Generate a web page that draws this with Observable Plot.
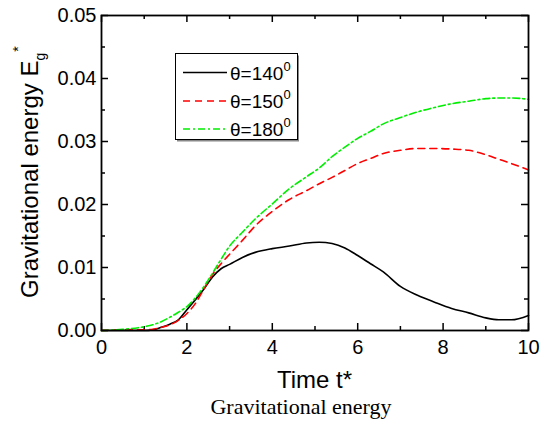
<!DOCTYPE html>
<html>
<head>
<meta charset="utf-8">
<script src="https://cdn.jsdelivr.net/npm/d3@7"></script>
<script src="https://cdn.jsdelivr.net/npm/@observablehq/plot@0.6"></script>
<style>
  html, body { margin: 0; padding: 0; background: #fff; }
  #chart { width: 549px; height: 424px; }
</style>
</head>
<body>
<div id="chart"></div>
<script>
// ---- data ----
const time = [0, 0.5, 1, 1.2, 1.4, 1.6, 1.8, 2, 2.2, 2.4, 2.6, 2.8, 3, 3.3, 3.6, 4, 4.4, 4.8, 5.1, 5.4, 5.7, 6, 6.3, 6.6, 7, 7.4, 7.8, 8.2, 8.6, 9, 9.3, 9.6, 10];
const theta140 = [0, 0, 0, 0.0001, 0.0005, 0.001, 0.0017, 0.0033, 0.0049, 0.0066, 0.0085, 0.0098, 0.0105, 0.0116, 0.0124, 0.0130, 0.0134, 0.0139, 0.0140, 0.0138, 0.0131, 0.0119, 0.0106, 0.0093, 0.0070, 0.0056, 0.0045, 0.0035, 0.0028, 0.0020, 0.0017, 0.0017, 0.0024];
const theta150 = [0, 0.0001, 0.0001, 0.0002, 0.0005, 0.0009, 0.0016, 0.0027, 0.0043, 0.0066, 0.0089, 0.0106, 0.0121, 0.0143, 0.0166, 0.0189, 0.0208, 0.0222, 0.0233, 0.0243, 0.0254, 0.0265, 0.0273, 0.0281, 0.0286, 0.0289, 0.0289, 0.0288, 0.0286, 0.0279, 0.0272, 0.0265, 0.0255];
const theta180 = [0, 0.0002, 0.0006, 0.0009, 0.0014, 0.0021, 0.0029, 0.0038, 0.0052, 0.0070, 0.0091, 0.0113, 0.0134, 0.0156, 0.0177, 0.0201, 0.0225, 0.0244, 0.0258, 0.0276, 0.0291, 0.0305, 0.0316, 0.0328, 0.0338, 0.0347, 0.0354, 0.0360, 0.0364, 0.0368, 0.0369, 0.0369, 0.0367];
const seriesNames = ["θ=140", "θ=150", "θ=180"];
const seriesColors = ["#000000", "#ff0000", "#00ee00"];
const seriesDash = [null, "7,5", "7,3,2,3"];
const xMajorTicks = [0, 2, 4, 6, 8, 10];
const xMinorTicks = [1, 3, 5, 7, 9];
const yMajorTicks = [0, 0.01, 0.02, 0.03, 0.04, 0.05];
const yMinorTicks = [0.005, 0.015, 0.025, 0.035, 0.045];

// ---- build table ----
const allSeries = [theta140, theta150, theta180];
const rows = [];
allSeries.forEach((vals, s) => vals.forEach((v, i) => rows.push({t: time[i], e: v, s})));

const W = 549, H = 424;
const mL = 101, mR = 21, mT = 15, mB = 94;
const innerH = H - mT - mB, innerW = W - mL - mR;

const font = "'Liberation Sans', Arial, Helvetica, sans-serif";

const lineMarks = allSeries.map((vals, s) =>
  Plot.line(rows.filter(r => r.s === s), {
    x: "t", y: "e", stroke: seriesColors[s], strokeWidth: 1.6,
    strokeDasharray: seriesDash[s] || undefined, curve: "monotone-x"
  })
);

const plot = Plot.plot({
  width: W, height: H,
  marginLeft: mL, marginRight: mR, marginTop: mT, marginBottom: mB,
  style: {fontFamily: font, fontSize: "20px", color: "#000", background: "#fff"},
  x: {domain: [0, 10]},
  y: {domain: [0, 0.05]},
  marks: [
    Plot.tickX(xMajorTicks, {x: d => d, insetTop: innerH - 7, strokeWidth: 1.5}),
    Plot.tickX(xMinorTicks, {x: d => d, insetTop: innerH - 4, strokeWidth: 1.5}),
    Plot.tickX(xMajorTicks, {x: d => d, insetBottom: innerH - 7, strokeWidth: 1.5}),
    Plot.tickX(xMinorTicks, {x: d => d, insetBottom: innerH - 4, strokeWidth: 1.5}),
    Plot.tickY(yMajorTicks, {y: d => d, insetRight: innerW - 7, strokeWidth: 1.5}),
    Plot.tickY(yMinorTicks, {y: d => d, insetRight: innerW - 4, strokeWidth: 1.5}),
    Plot.tickY(yMajorTicks, {y: d => d, insetLeft: innerW - 7, strokeWidth: 1.5}),
    Plot.tickY(yMinorTicks, {y: d => d, insetLeft: innerW - 4, strokeWidth: 1.5}),
    Plot.axisX({ticks: xMajorTicks, tickSize: 0, tickPadding: 9, label: null, fontSize: 20}),
    Plot.axisY({ticks: yMajorTicks, tickSize: 0, tickPadding: 5, tickFormat: d3.format(".2f"), label: null, fontSize: 20}),
    ...lineMarks,
    Plot.frame({stroke: "#000", strokeWidth: 1.8})
  ]
});

document.getElementById("chart").appendChild(plot);

// ---- titles, legend, caption ----
const svg = d3.select(plot);

svg.append("text")
  .attr("x", mL + innerW / 2).attr("y", 388)
  .attr("text-anchor", "middle")
  .style("font-family", font).style("font-size", "24px").attr("fill", "#000")
  .text("Time t*");

const yt = svg.append("text")
  .attr("transform", "translate(38,298) rotate(-90)")
  .attr("text-anchor", "start")
  .style("font-family", font).style("font-size", "24px").attr("fill", "#000");
yt.append("tspan").text("Gravitational energy E");
yt.append("tspan").attr("dy", 7).style("font-size", "14px").text("g");
yt.append("tspan").attr("dy", -22).attr("dx", 1).style("font-size", "14px").text("*");

svg.append("text")
  .attr("x", 301).attr("y", 414)
  .attr("text-anchor", "middle")
  .style("font-family", "'Liberation Serif', 'Times New Roman', serif").style("font-size", "22px").attr("fill", "#000")
  .text("Gravitational energy");

// legend
const lg = svg.append("g").attr("text-anchor", "start");
lg.append("rect").attr("x", 177).attr("y", 55.5).attr("width", 122).attr("height", 86).attr("fill", "#888");
lg.append("rect").attr("x", 175.5).attr("y", 53.5).attr("width", 122).attr("height", 86)
  .attr("fill", "#fff").attr("stroke", "#000").attr("stroke-width", 1);
const rowY = [72.5, 101, 129];
seriesNames.forEach((name, i) => {
  lg.append("line").attr("x1", 183).attr("x2", 227).attr("y1", rowY[i]).attr("y2", rowY[i])
    .attr("stroke", seriesColors[i]).attr("stroke-width", 1.6)
    .attr("stroke-dasharray", seriesDash[i]);
  const t = lg.append("text").attr("x", 230).attr("y", rowY[i] + 7)
    .attr("text-anchor", "start")
    .style("font-family", font).style("font-size", "19px").attr("fill", "#000");
  t.append("tspan").text(name);
  t.append("tspan").attr("dy", -9).style("font-size", "13px").text("0");
});
</script>
</body>
</html>
